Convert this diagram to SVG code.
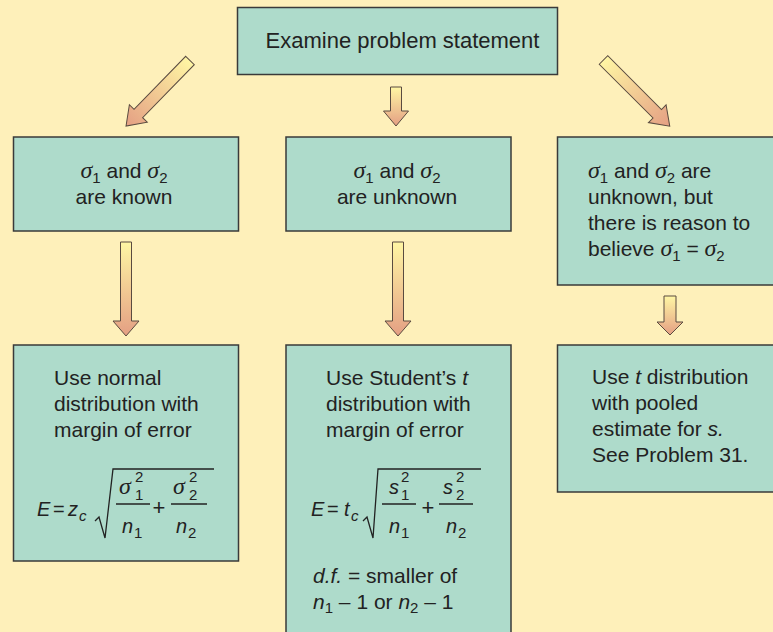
<svg xmlns="http://www.w3.org/2000/svg" width="773" height="632" viewBox="0 0 773 632">
<defs>
<linearGradient id="ag" x1="0" y1="0" x2="0" y2="1">
<stop offset="0" stop-color="#FFF6A4"/>
<stop offset="1" stop-color="#E49F83"/>
</linearGradient>
<style>
.box{fill:#AEDBCB;stroke:#3a3a3a;stroke-width:1.5}
.arr{fill:url(#ag);stroke:#5a4b40;stroke-width:1}
.t{font-family:"Liberation Sans",Arial,sans-serif;font-size:21px;fill:#222}
.f{font-family:"Liberation Sans",Arial,sans-serif;font-size:20px;fill:#222}
.i{font-style:italic}
.g{font-family:"Liberation Serif","Times New Roman",serif;font-style:italic;font-size:24px;fill:#222}
.s{font-size:15px}
.k{font-size:15px}
.ln{stroke:#222;stroke-width:1.3;fill:none}
</style>
</defs>
<rect width="773" height="632" fill="#FEF0BA"/>

<g id="connectors">
<g transform="translate(190,60.5) rotate(44.3)"><path class="arr" d="M-6,0 L6,0 L6,74 L12.5,74 L0,91.6 L-12.5,74 L-6,74 Z"/></g>
<g transform="translate(396,87)"><path class="arr" d="M-5.5,0 L5.5,0 L5.5,24 L12.5,24 L0,39 L-12.5,24 L-5.5,24 Z"/></g>
<g transform="translate(603.5,60) rotate(-45)"><path class="arr" d="M-6,0 L6,0 L6,76 L12.5,76 L0,93.7 L-12.5,76 L-6,76 Z"/></g>
<g transform="translate(126,242)"><path class="arr" d="M-5.5,0 L5.5,0 L5.5,79 L13,79 L0,94 L-13,79 L-5.5,79 Z"/></g>
<g transform="translate(398,242)"><path class="arr" d="M-5.5,0 L5.5,0 L5.5,79 L13,79 L0,94 L-13,79 L-5.5,79 Z"/></g>
<g transform="translate(670,296)"><path class="arr" d="M-6,0 L6,0 L6,26 L13,26 L0,39 L-13,26 L-6,26 Z"/></g>
</g>

<g id="n-top">
<rect class="box" x="237.5" y="7.5" width="320" height="67"/>
<text class="t" x="402.5" y="48" text-anchor="middle" style="font-size:22px">Examine problem statement</text>
</g>

<g id="n-known">
<rect class="box" x="13.5" y="137" width="225" height="94"/>
<text class="t" x="124" y="178" text-anchor="middle"><tspan class="g">σ</tspan><tspan class="s" dy="5">1</tspan><tspan dy="-5"> and </tspan><tspan class="g">σ</tspan><tspan class="s" dy="5">2</tspan></text>
<text class="t" x="124" y="204" text-anchor="middle">are known</text>
</g>

<g id="n-unknown">
<rect class="box" x="286" y="137" width="225" height="94"/>
<text class="t" x="397" y="178" text-anchor="middle"><tspan class="g">σ</tspan><tspan class="s" dy="5">1</tspan><tspan dy="-5"> and </tspan><tspan class="g">σ</tspan><tspan class="s" dy="5">2</tspan></text>
<text class="t" x="397" y="204" text-anchor="middle">are unknown</text>
</g>

<g id="n-equal">
<rect class="box" x="557.5" y="137" width="230" height="148"/>
<text class="t" x="588" y="178"><tspan class="g">σ</tspan><tspan class="s" dy="5">1</tspan><tspan dy="-5"> and </tspan><tspan class="g">σ</tspan><tspan class="s" dy="5">2</tspan><tspan dy="-5"> are</tspan></text>
<text class="t" x="588" y="204">unknown, but</text>
<text class="t" x="588" y="230">there is reason to</text>
<text class="t" x="588" y="256">believe <tspan class="g">σ</tspan><tspan class="s" dy="5">1</tspan><tspan dy="-5"> = </tspan><tspan class="g">σ</tspan><tspan class="s" dy="5">2</tspan></text>
</g>

<g id="n-normal">
<rect class="box" x="13.5" y="345" width="225" height="216"/>
<text class="t" x="54" y="385">Use normal</text>
<text class="t" x="54" y="411">distribution with</text>
<text class="t" x="54" y="437">margin of error</text>
<text class="f i" x="37" y="516">E</text>
<text class="f" x="53" y="516">=</text>
<text class="f i" x="68" y="516">z</text>
<text class="f i s" x="79" y="521">c</text>
<path class="ln" d="M95,521 L99,517 L105,538 L113,469 L214,469"/>
<line class="ln" x1="116" y1="504" x2="150" y2="504"/>
<text class="g" x="119" y="494">σ</text>
<text class="f k" x="135" y="482">2</text>
<text class="f k" x="135" y="500">1</text>
<text class="f i" x="122" y="533">n</text>
<text class="f s" x="134" y="538">1</text>
<text class="f" x="159" y="515" text-anchor="middle" style="font-size:22px">+</text>
<line class="ln" x1="171" y1="504" x2="207" y2="504"/>
<text class="g" x="173" y="494">σ</text>
<text class="f k" x="189" y="482">2</text>
<text class="f k" x="189" y="500">2</text>
<text class="f i" x="176" y="533">n</text>
<text class="f s" x="188" y="538">2</text>
</g>

<g id="n-student">
<rect class="box" x="286" y="345" width="225" height="300"/>
<text class="t" x="326" y="385">Use Student’s <tspan class="i">t</tspan></text>
<text class="t" x="326" y="411">distribution with</text>
<text class="t" x="326" y="437">margin of error</text>
<text class="f i" x="311" y="516">E</text>
<text class="f" x="327" y="516">=</text>
<text class="f i" x="344" y="516">t</text>
<text class="f i s" x="351" y="521">c</text>
<path class="ln" d="M363,521 L367,517 L373,538 L378,469 L481,469"/>
<line class="ln" x1="382" y1="504" x2="416" y2="504"/>
<text class="f i" x="389" y="494">s</text>
<text class="f k" x="401" y="482">2</text>
<text class="f k" x="401" y="500">1</text>
<text class="f i" x="389" y="533">n</text>
<text class="f s" x="401" y="538">1</text>
<text class="f" x="428" y="515" text-anchor="middle" style="font-size:22px">+</text>
<line class="ln" x1="439" y1="504" x2="473" y2="504"/>
<text class="f i" x="443" y="494">s</text>
<text class="f k" x="456" y="482">2</text>
<text class="f k" x="456" y="500">2</text>
<text class="f i" x="446" y="533">n</text>
<text class="f s" x="458" y="538">2</text>
<text class="t" x="313" y="583"><tspan class="i">d.f.</tspan> = smaller of</text>
<text class="t" x="313" y="609"><tspan class="i">n</tspan><tspan class="s" dy="4">1</tspan><tspan dy="-4"> – 1 or </tspan><tspan class="i">n</tspan><tspan class="s" dy="4">2</tspan><tspan dy="-4"> – 1</tspan></text>
</g>

<g id="n-pooled">
<rect class="box" x="557.5" y="345" width="230" height="147"/>
<text class="t" x="592" y="384">Use <tspan class="i">t</tspan> distribution</text>
<text class="t" x="592" y="410">with pooled</text>
<text class="t" x="592" y="436">estimate for <tspan class="i">s.</tspan></text>
<text class="t" x="592" y="462">See Problem 31.</text>
</g>
</svg>
